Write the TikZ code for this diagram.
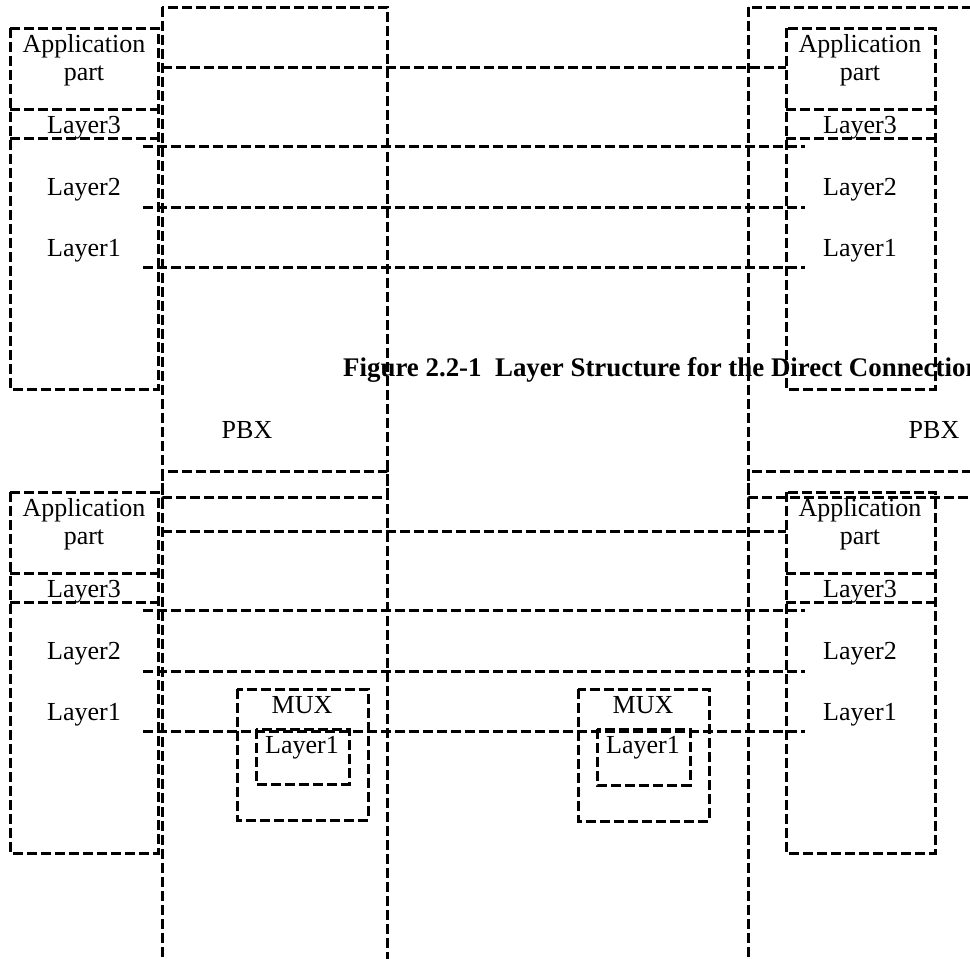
\documentclass[tikz,border=0pt]{standalone}
\usepackage{fontspec}
\setmainfont{Liberation Serif}
\begin{document}
\begin{tikzpicture}[x=1pt,y=-1pt,
  frame/.style={draw=black, line width=3pt, dash pattern=on 10pt off 4pt},
  link/.style={draw=black, line width=3pt, dash pattern=on 10pt off 4pt},
  lbl/.style={font=\fontsize{26}{30}\selectfont, anchor=base, inner sep=0pt},
  caption/.style={font=\fontsize{26.9}{31}\selectfont\bfseries, anchor=base west, inner sep=0pt}]
\useasboundingbox (0,0) rectangle (970,959);
\clip (0,0) rectangle (970,959);

% caption (drawn first so the frames run across it)
\node[caption] (cap) at (343,376) {Figure 2.2-1\ \ Layer Structure for the Direct Connection};

% Two copies of the layer stack: direct connection (a) and via multiplexers (b)
\foreach \dy/\t in {0/a,464/b} {
  % PBX frames
  \draw[frame] (162,7+\dy) rectangle (387,497+\dy);
  \draw[frame] (748,7+\dy) rectangle (1000,497+\dy);
  % left terminal
  \draw[frame] (10,28+\dy) rectangle (158,389+\dy);
  \draw[frame] (10,109+\dy) -- (158,109+\dy);
  \draw[frame] (10,138+\dy) -- (158,138+\dy);
  % right terminal
  \draw[frame] (786,28+\dy) rectangle (935,389+\dy);
  \draw[frame] (786,109+\dy) -- (935,109+\dy);
  \draw[frame] (786,138+\dy) -- (935,138+\dy);
  % layer labels
  \node[lbl] (appL-\t) at (84,52+\dy) {Application};
  \node[lbl] (partL-\t) at (84,80+\dy) {part};
  \node[lbl] (l3L-\t) at (84,133+\dy) {Layer3};
  \node[lbl] (l2L-\t) at (84,195+\dy) {Layer2};
  \node[lbl] (l1L-\t) at (84,256+\dy) {Layer1};
  \node[lbl] (appR-\t) at (860,52+\dy) {Application};
  \node[lbl] (partR-\t) at (860,80+\dy) {part};
  \node[lbl] (l3R-\t) at (860,133+\dy) {Layer3};
  \node[lbl] (l2R-\t) at (860,195+\dy) {Layer2};
  \node[lbl] (l1R-\t) at (860,256+\dy) {Layer1};
  % peer-to-peer layer lines
  \draw[link] (162,67+\dy) -- (786,67+\dy);
  \draw[link] (143,146+\dy) -- (805,146+\dy);
  \draw[link] (143,207+\dy) -- (805,207+\dy);
  \draw[link] (143,267+\dy) -- (805,267+\dy);
}

% PBX labels
\node[lbl] (pbxL) at (247,438) {PBX};
\node[lbl] (pbxR) at (934,438) {PBX};

% multiplexers
\draw[frame] (237,689) rectangle (368,820);
\draw[frame] (256,729) rectangle (349,784);
\node[lbl] (muxL) at (302,713) {MUX};
\node[lbl] (muxL1) at (302,753) {Layer1};
\draw[frame] (578,689) rectangle (709,821);
\draw[frame] (597,729) rectangle (690,785);
\node[lbl] (muxR) at (643,713) {MUX};
\node[lbl] (muxR1) at (643,753) {Layer1};
\end{tikzpicture}
\end{document}
